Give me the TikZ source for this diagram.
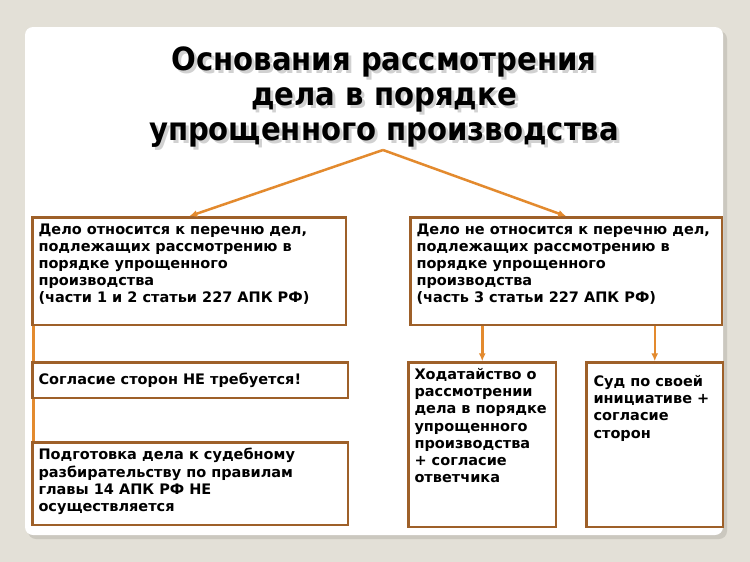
\documentclass[tikz,border=0pt]{standalone}
\usepackage{fontspec}
\setmainfont{DejaVu Sans}
\newfontfamily\titlefont[FakeStretch=0.91]{DejaVu Sans}
\usetikzlibrary{arrows.meta}
\definecolor{bggrey}{HTML}{E3E0D7}
\definecolor{panelshadow}{HTML}{CBC8BF}
\definecolor{framebrown}{HTML}{9E6029}
\definecolor{linkorange}{HTML}{E38A2E}
\tikzset{
  casebox/.style={draw=framebrown,line width=2.5pt,fill=white,anchor=north west,inner sep=6pt,
    font=\fontsize{14.5}{17.2}\selectfont\bfseries},
  link/.style={draw=linkorange,line width=2.5pt},
  titletext/.style={align=center,font=\titlefont\fontsize{32}{35}\selectfont\bfseries},
}
\begin{document}
\begin{tikzpicture}[x=1pt,y=-1pt,>={Latex[length=8pt,width=7pt]}]
% slide background
\fill[bggrey] (0,0) rectangle (750,562);
\fill[panelshadow,rounded corners=8pt] (28,31) rectangle (727,539);
\fill[white,rounded corners=8pt] (25,27) rectangle (723,535);

% heading with its shadow
\node[titletext,text=black!40,opacity=.45] (titleshadow) at (387,100.5) {Основания рассмотрения\\дела в порядке\\упрощенного производства};
\node[titletext] (title) at (384,97) {Основания рассмотрения\\дела в порядке\\упрощенного производства};

% boxes
\node[casebox] (leftcase) at (31.25,216.25) {\parbox[t][95.5pt][t]{301.5pt}{\raggedright
  Дело относится к перечню дел,\\ подлежащих рассмотрению в\\ порядке упрощенного\\ производства\\ (части 1 и 2 статьи 227 АПК РФ)}};
\node[casebox] (rightcase) at (409.25,216.25) {\parbox[t][95.5pt][t]{299.5pt}{\raggedright
  Дело не относится к перечню дел,\\ подлежащих рассмотрению в\\ порядке упрощенного\\ производства\\ (часть 3 статьи 227 АПК РФ)}};
\node[casebox] (consent) at (31.25,361.25) {\parbox[c][23.5pt][c]{303.5pt}{\raggedright
  Согласие сторон НЕ требуется!}};
\node[casebox] (prep) at (31.25,441.25) {\parbox[t][70.5pt][t]{303.5pt}{\raggedright
  Подготовка дела к судебному\\ разбирательству по правилам\\ главы 14 АПК РФ НЕ\\ осуществляется}};
\node[casebox] (petition) at (407.25,361.25) {\parbox[t][152.5pt][t]{135.5pt}{\raggedright
  Ходатайство о\\ рассмотрении\\ дела в порядке\\ упрощенного\\ производства\\ + согласие\\ ответчика}};
\node[casebox,inner xsep=7pt] (court) at (585.25,361.25) {\parbox[t][152.5pt][t]{122.5pt}{\raggedright
  \vspace*{7pt}Суд по своей\\ инициативе +\\ согласие\\ сторон}};

% connectors
\coordinate (apex) at (383,150);
\draw[link,->] (apex) -- (leftcase.north);
\draw[link,->] (apex) -- (rightcase.north);
\draw[link,->] (petition.north |- rightcase.south) -- (petition.north);
\draw[link,->] (court.north |- rightcase.south) -- (court.north);
\draw[link] ([xshift=2pt]leftcase.south west) -- ([xshift=2pt]consent.north west);
\draw[link] ([xshift=2pt]consent.south west) -- ([xshift=2pt]prep.north west);
\end{tikzpicture}
\end{document}
